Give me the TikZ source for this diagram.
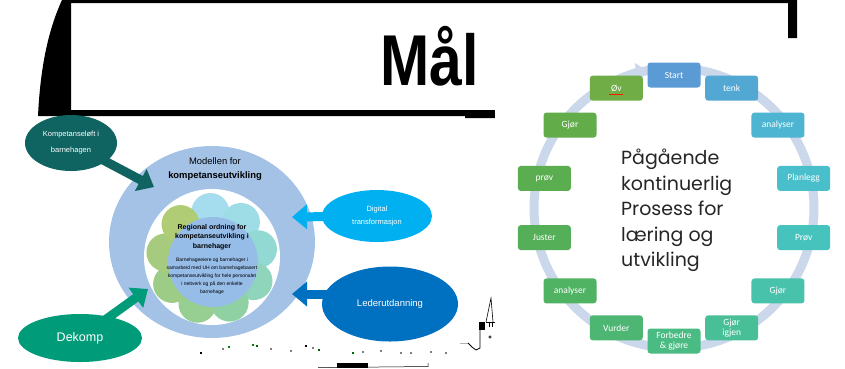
\documentclass[tikz,border=0pt]{standalone}
\usepackage{fontspec}
\setmainfont{Liberation Sans}
\newfontfamily\pop{Poppins}
\newfontfamily\carl{Carlito}
\usetikzlibrary{shapes.geometric,arrows.meta,calc}
\pgfdeclarelayer{bg}
\pgfdeclarelayer{mid}
\pgfsetlayers{bg,mid,main}
\definecolor{ringc}{HTML}{A3C2E6}
\definecolor{centc}{HTML}{96BCE8}
\definecolor{tealdark}{HTML}{0F6462}
\definecolor{dekc}{HTML}{009B78}
\definecolor{cyanc}{HTML}{00B0F0}
\definecolor{bluec}{HTML}{0070C0}
\definecolor{cycring}{HTML}{CBD7EB}
\definecolor{midtext}{HTML}{262626}
\definecolor{p0}{HTML}{A5DCEE}
\definecolor{p1}{HTML}{9EDCE6}
\definecolor{p2}{HTML}{93D9D3}
\definecolor{p3}{HTML}{8ED5BC}
\definecolor{p4}{HTML}{8FD1A3}
\definecolor{p5}{HTML}{97CE92}
\definecolor{p6}{HTML}{9DCC86}
\definecolor{p7}{HTML}{A6CB7E}
\definecolor{p8}{HTML}{B0CC74}
\definecolor{c0}{HTML}{5B9BD5}
\definecolor{c1}{HTML}{52A8D3}
\definecolor{c2}{HTML}{4DB5D2}
\definecolor{c3}{HTML}{49BFCB}
\definecolor{c4}{HTML}{47C3BD}
\definecolor{c5}{HTML}{48C2AA}
\definecolor{c6}{HTML}{49BF97}
\definecolor{c7}{HTML}{4BBB84}
\definecolor{c8}{HTML}{4DB672}
\definecolor{c9}{HTML}{50B263}
\definecolor{c10}{HTML}{55AF58}
\definecolor{c11}{HTML}{5AAE50}
\definecolor{c12}{HTML}{62AD4A}
\definecolor{c13}{HTML}{70AD47}
\begin{document}
\begin{tikzpicture}[x=1pt,y=-1pt,
  rbox/.style={rounded corners=3pt, minimum width=53pt, minimum height=25pt, inner sep=1pt, text=white, font=\carl\fontsize{9.5}{9.5}\selectfont, align=center},
  ell/.style={ellipse, inner sep=0pt, text=white, align=center},
  barrow/.style={line width=9pt, -{Triangle[width=24pt,length=15pt]}}
]
\useasboundingbox (0,0) rectangle (845,368);
\begin{pgfonlayer}{bg}
\fill[white] (0,0) rectangle (845,368);
% left diagram: ring and flower
\fill[ringc] (212,242) ellipse[x radius=103, y radius=96];
\fill[white] (212,257) circle[radius=68];
\foreach \k in {0,...,8}{
  \fill[p\k] ([shift={(-92+\k*40:47)}]212,259) circle[radius=19];
}
\node[circle, fill=centc, minimum size=90pt, inner sep=0pt] (core) at (213,262) {};
\node[font=\fontsize{9.4}{11}\selectfont, inner sep=0pt] (ml1) at (215,161) {Modellen for};
\node[font=\bfseries\fontsize{9.4}{11}\selectfont, inner sep=0pt] (ml2) at (215,176) {kompetanseutvikling};
\node[font=\bfseries\fontsize{7}{9.5}\selectfont, align=center, inner sep=0pt] (coreh) at (212,237) {Regional ordning for\\kompetanseutvikling i\\barnehager};
\node[font=\fontsize{5}{8}\selectfont, align=center, inner sep=0pt] (corep) at (212,276) {Barnehageeiere og barnehager i\\samarbeid med UH om barnehagebasert\\kompetanseutvikling for hele personalet\\i nettverk og på den enkelte\\barnehage};
\end{pgfonlayer}

% frame and title
\fill[black] (62,0) -- (797,0) -- (797,38) -- (788,38) -- (788,3) -- (71,3) -- (71,110) -- (495,110) -- (495,118) -- (465,118) -- (465,116) -- (38,116) .. controls (40,75) and (46,35) .. (62,0) -- cycle;
\node[font=\bfseries\fontsize{72}{72}\selectfont, anchor=base, inner sep=0pt] (title) at (430,85) {\scalebox{0.82}[1]{Mål}};

% callout ellipses
\node[ell, fill=tealdark, minimum width=92pt, minimum height=56pt, font=\fontsize{7.5}{16}\selectfont] (komp) at (71,143) {Kompetanseløft i\\barnehagen};
\node[ell, fill=dekc, minimum width=124pt, minimum height=48pt, font=\fontsize{12.5}{14}\selectfont] (dek) at (80,338) {Dekomp};
\node[ell, fill=cyanc, minimum width=110pt, minimum height=52pt, font=\fontsize{7.5}{13}\selectfont] (dig) at (377,216) {Digital\\transformasjon};
\node[ell, fill=bluec, minimum width=136pt, minimum height=75pt, font=\fontsize{9.5}{11}\selectfont] (led) at (390,304) {Lederutdanning};

\coordinate (tipK) at (154,187);
\coordinate (tipD) at (148,289);
\coordinate (tipG) at (292,217);
\coordinate (tipL) at (292,294);
\begin{pgfonlayer}{mid}
\draw[barrow, tealdark] (komp.center) -- (tipK);
\draw[barrow, dekc] (dek.center) -- (tipD);
\draw[barrow, cyanc] (dig.center) -- (tipG);
\draw[barrow, bluec] ($(led.center)+(0,-10)$) -- (tipL);
\end{pgfonlayer}

% bottom fragments
\fill[black] (337,363) rectangle (368,368);
\draw[line width=0.5pt] (318,367.6) -- (428,366.5) -- (428,363);
\draw[gray!60, line width=0.6pt] (460,343) -- (468,343);
\draw[line width=0.8pt] (468,343) -- (472,347) -- (476,350) -- (480,348) -- (480,325);
\fill[black] (479,322) rectangle (485,330);
\draw[line width=0.6pt] (486,322) -- (491,298) -- (493,322);
\draw[line width=0.5pt] (486,322) -- (498,322);
\draw[line width=0.4pt] (489,323) -- (489,327) (492,323) -- (492,327) (495,323) -- (495,327);
\draw[line width=0.5pt] (490,337) circle[radius=1.3];
\foreach \x/\y/\c in {200/352/black, 222/348/gray, 228/346/green!50!black, 252/344/green!50!black, 256/345/green!40!black, 270/348/gray, 290/350/gray, 305/345/black, 312/347/gray, 318/349/green!40!black, 352/352/green!40!black, 362/351/gray, 380/350/gray, 400/352/gray, 410/352/gray, 430/351/gray, 445/352/gray}{
  \fill[\c] (\x,\y) rectangle ++(2,2);
}

% right diagram
\fill[white] (495,40) rectangle (845,368);
\draw[cycring, line width=9pt] (674,208) circle[radius=140];
\draw[cycring, line width=9pt, -{Triangle[width=19pt,length=11pt]}] ([shift={(-118:140)}]674,208) arc[start angle=-118, end angle=-101, radius=140];
\foreach \k/\t in {0/Start, 1/tenk, 2/analyser, 3/Planlegg, 4/Prøv, 5/Gjør, 6/{Gjør\\igjen}, 7/{Forbedre\\\& gjøre}, 8/Vurder, 9/analyser, 10/Juster, 11/prøv, 12/Gjør, 13/Øv}{
  \node[rbox, fill=c\k] (b\k) at ([shift={(-90+\k*25.714:133)}]674,208) {\t};
}
\draw[red!80!orange, line width=0.7pt] ([shift={(-7,6)}]b13.center) -- ++(14,0);
\node[font=\pop\fontsize{19}{25.5}\selectfont, align=left, anchor=north west, inner sep=0pt, text=midtext] (proc) at (621,149) {Pågående\\kontinuerlig\\Prosess for\\læring og\\utvikling};
\end{tikzpicture}
\end{document}
